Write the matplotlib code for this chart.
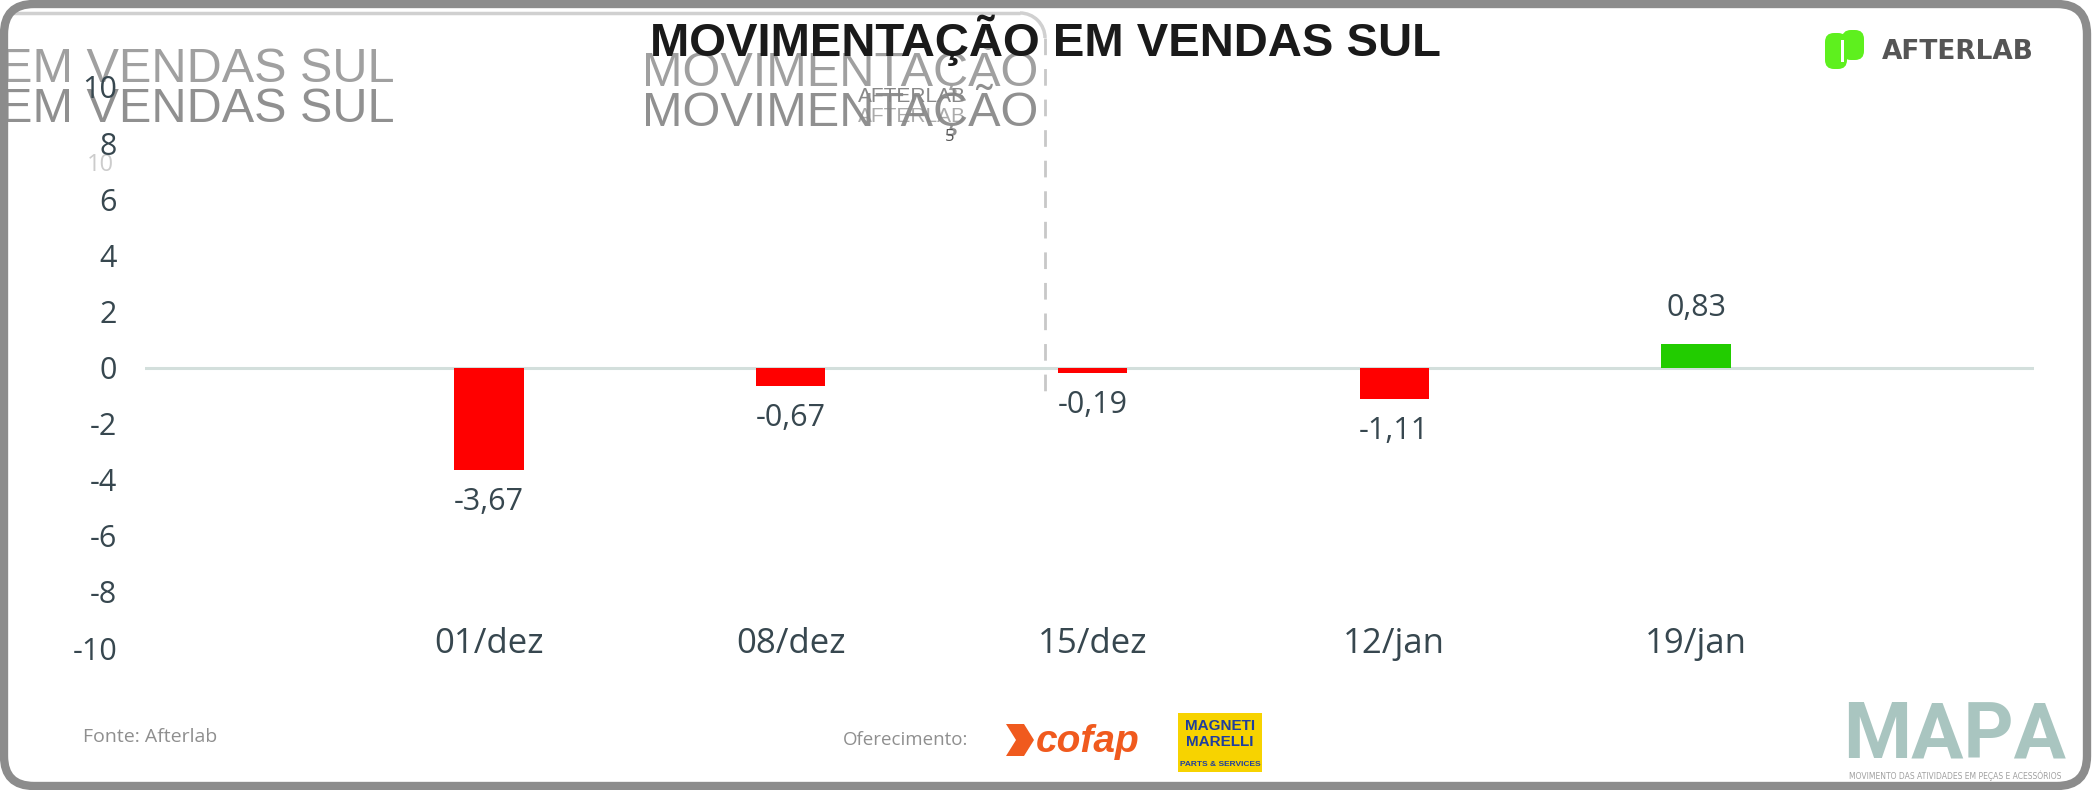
import matplotlib
matplotlib.use("Agg")
import matplotlib.pyplot as plt
from matplotlib.patches import FancyBboxPatch, Rectangle, Polygon, Arc
import numpy as np

# ---- data ----
categories = ["01/dez", "08/dez", "15/dez", "12/jan", "19/jan"]
values = [-3.67, -0.67, -0.19, -1.11, 0.83]
value_labels = ["-3,67", "-0,67", "-0,19", "-1,11", "0,83"]
y_ticks = [-10, -8, -6, -4, -2, 0, 2, 4, 6, 8, 10]

title = "MOVIMENTAÇÃO EM VENDAS SUL"
source = "Fonte: Afterlab"
sponsor = "Oferecimento:"

W, H = 2095, 790
fig = plt.figure(figsize=(W / 100, H / 100), dpi=100)
fig.patch.set_facecolor("white")

TXT = "#37474f"
FONT = "Open Sans"

ax = fig.add_axes([145 / W, 1 - 648 / H, 1889 / W, (648 - 87) / H])
ax.set_facecolor("none")
x = np.arange(len(categories))
colors = ["#ff0000" if v < 0 else "#22cc00" for v in values]
ax.bar(x, values, width=0.23, color=colors, zorder=3)
ax.axhline(0, color="#d3dfdc", lw=2.2, zorder=2)
ax.set_xlim(-1.14, 5.12)
ax.set_ylim(-10, 10)
ax.set_yticks(y_ticks)
ax.set_yticklabels([str(t) for t in y_ticks], fontsize=22, color=TXT, family=FONT)
ax.set_xticks(x)
ax.set_xticklabels(categories, fontsize=25, color=TXT, family=FONT)
ax.tick_params(axis="y", length=0, pad=20)
ax.tick_params(axis="x", length=0, pad=-15)
for s in ax.spines.values():
    s.set_visible(False)

for xi, v, lab in zip(x, values, value_labels):
    off = 26 if v >= 0 else -23
    ax.annotate(lab, (xi, v), xytext=(0, off), textcoords="offset points",
                ha="center", va="center", fontsize=22, color=TXT, family=FONT, zorder=4)

# ---- background overlay layer (pixel coordinates) ----
ov = fig.add_axes([0, 0, 1, 1], zorder=-1)
ov.set_xlim(0, W)
ov.set_ylim(H, 0)
ov.axis("off")

# inner box: solid light top edge, rounded corner, dashed right edge
ov.plot([10, 1020], [13, 13], color="#d0d0d0", lw=2.5, solid_capstyle="butt")
ov.add_patch(Arc((1020, 38), 50, 50, theta1=270, theta2=360, color="#d0d0d0", lw=2.5))
ov.plot([1045, 1045], [38, 400], color="#c8c8c8", lw=2, ls=(0, (6, 5)))

# ghost texts
ghost_font = ["Liberation Sans Narrow", "Liberation Sans", "DejaVu Sans"]
for yy, c in [(70, "#8f8f8f"), (110, "#7d7d7d")]:
    ov.text(0, yy, "EM VENDAS SUL", fontsize=35, color=c, family=ghost_font,
            ha="left", va="center", alpha=0.85)
    ov.text(642, yy, "MOVIMENTAÇÃO", fontsize=35, color=c, family=ghost_font,
            ha="left", va="center", alpha=0.85)
ov.text(912, 97, "AFTERLAB", fontsize=15, color="#888888", family=ghost_font,
        ha="center", va="center")
ov.text(912, 117, "AFTERLAB", fontsize=15, color="#888888", family=ghost_font,
        ha="center", va="center", alpha=0.7)
ov.text(950, 137, "5", fontsize=12, color="#555555", family=FONT, ha="center", va="center")
ov.text(100, 165, "10", fontsize=17, color="#cccccc", family=FONT, ha="center", va="center")

# ---- foreground overlay ----
ov2 = fig.add_axes([0, 0, 1, 1], zorder=5)
ov2.set_xlim(0, W)
ov2.set_ylim(H, 0)
ov2.axis("off")
ov2.patch.set_alpha(0)

# outer frame
ov2.add_patch(FancyBboxPatch((4, 4), W - 12, H - 8, boxstyle="round,pad=0,rounding_size=30",
                             fill=False, ec="#8c8c8c", lw=6))

# title
ov2.text(1045, 40, title, fontsize=34, fontweight="bold", color="#1a1a1a",
         family="Liberation Sans", ha="center", va="center")

# AFTERLAB logo (top right)
ov2.add_patch(FancyBboxPatch((1825, 33), 22, 36, boxstyle="round,pad=0,rounding_size=9",
                             fc="#5ef01e", ec="none"))
ov2.add_patch(FancyBboxPatch((1842, 30), 22, 30, boxstyle="round,pad=0,rounding_size=9",
                             fc="#5ef01e", ec="none"))
ov2.add_patch(Rectangle((1841, 40), 3, 22, fc="white", ec="none"))
ov2.text(1882, 52, "AFTERLAB", fontsize=19, fontweight="bold", color="#555555",
         family="DejaVu Sans", ha="left", va="center")

# footer
ov2.text(83, 737, source, fontsize=14, color="#8f8f8f", family=FONT, ha="left", va="center")
ov2.text(843, 740, sponsor, fontsize=13.5, color="#8f8f8f", family=FONT, ha="left", va="center")
ov2.add_patch(Polygon([[1006, 724], [1024, 724], [1034, 740], [1024, 756], [1006, 756], [1016, 740]],
                      closed=True, fc="#f05a1e", ec="none"))
ov2.text(1036, 742, "cofap", fontsize=28, fontweight="bold", style="italic", color="#f05a1e",
         family="Liberation Sans", ha="left", va="center")
ov2.add_patch(Rectangle((1178, 713), 84, 59, fc="#f7d300", ec="none"))
ov2.text(1220, 726, "MAGNETI", fontsize=11, fontweight="bold", color="#1f3e9e",
         family=ghost_font, ha="center", va="center")
ov2.text(1220, 742, "MARELLI", fontsize=11, fontweight="bold", color="#1f3e9e",
         family=ghost_font, ha="center", va="center")
ov2.text(1220, 764, "PARTS & SERVICES", fontsize=6, fontweight="bold", color="#1f3e9e",
         family=ghost_font, ha="center", va="center")
ov2.text(1955, 736, "MAPA", fontsize=56, fontweight="bold", color="#a9c5c0",
         family="Roboto", ha="center", va="center")
ov2.text(1955, 776, "MOVIMENTO DAS ATIVIDADES EM PEÇAS E ACESSÓRIOS", fontsize=5.5,
         color="#a0a0a0", family="DejaVu Sans", ha="center", va="center")

fig.savefig("out.png", dpi=100)
